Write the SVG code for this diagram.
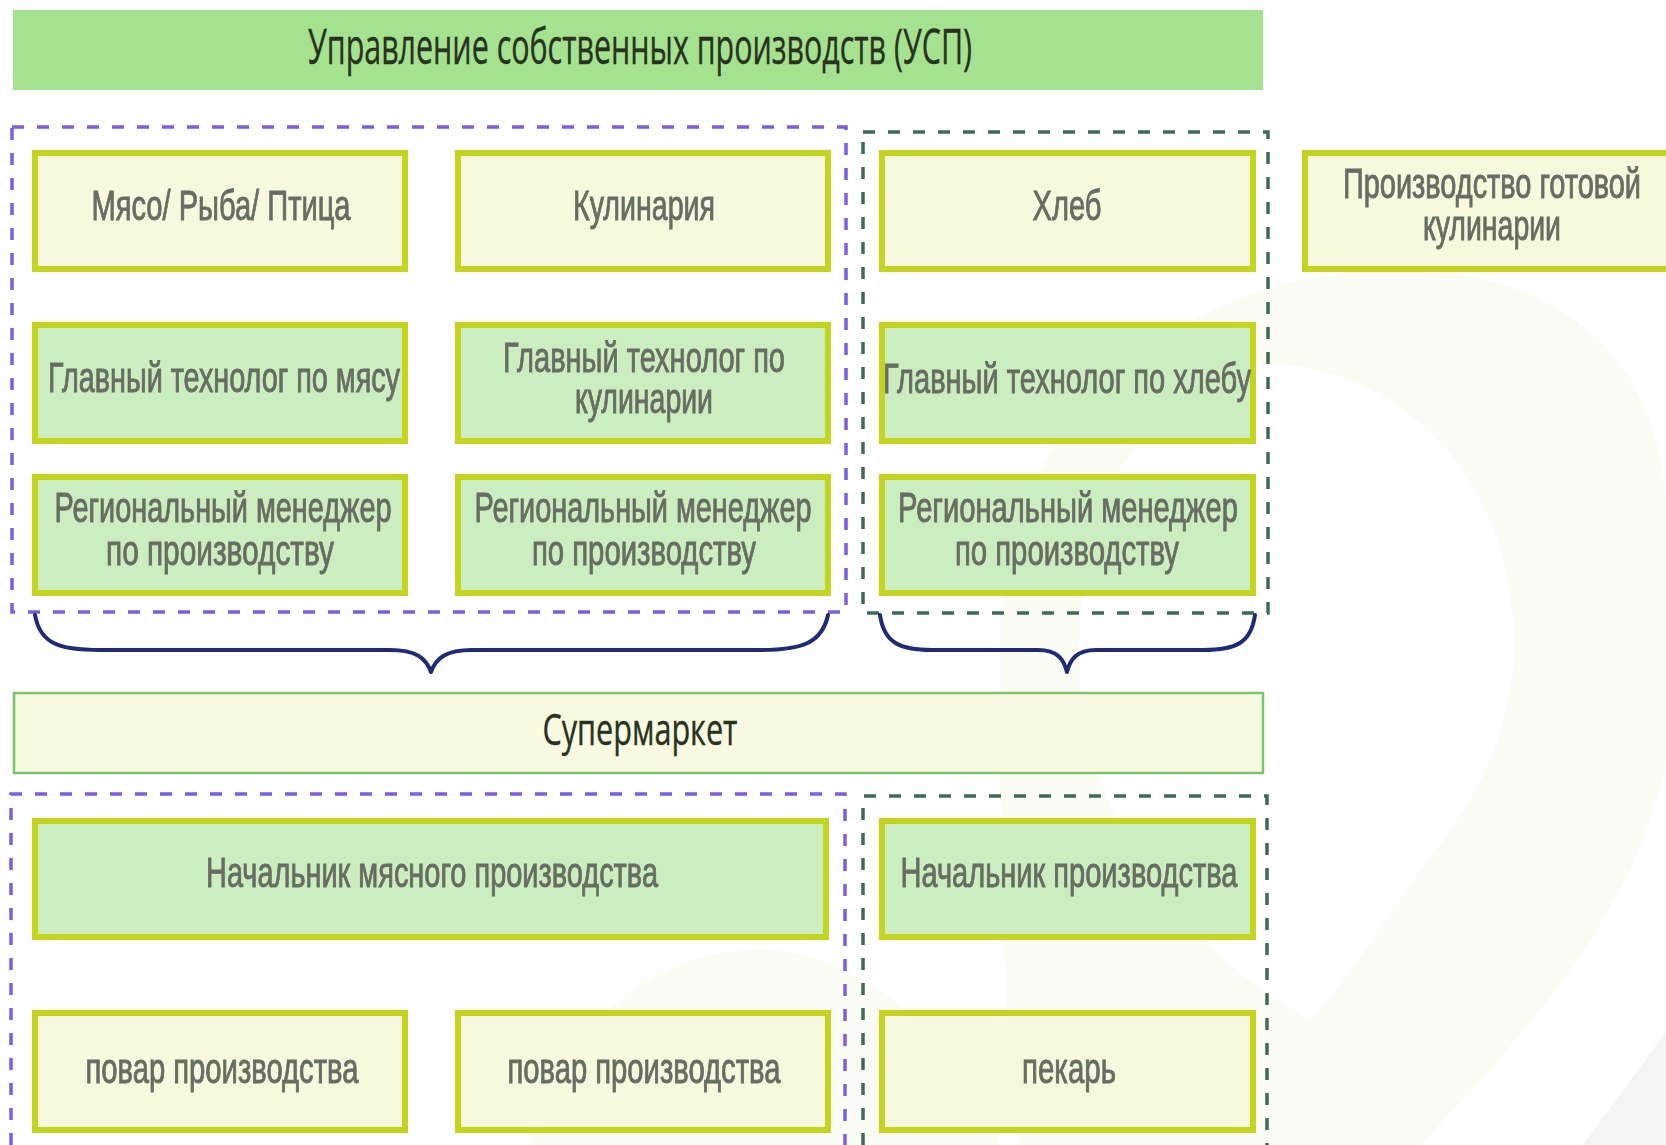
<svg xmlns="http://www.w3.org/2000/svg" width="1666" height="1145" viewBox="0 0 1666 1145">
<defs>
<style>
.bg{fill:#ffffff}
.wm{fill:#fbfcf3}
.wm2{fill:#f4f5f4}
.head{fill:#a5e28f}
.sup{fill:#f8fae1;stroke:#7cc56c;stroke-width:2.5}
.b1{fill:#f6f9de;stroke:#c3d51e;stroke-width:6}
.b2{fill:#ccedbf;stroke:#c3d51e;stroke-width:6}
.grpP{fill:none;stroke:#7d5ce6;stroke-width:3.5;stroke-dasharray:12 13}
.grpG{fill:none;stroke:#3e6b56;stroke-width:3.5;stroke-dasharray:12 13}
.brace{fill:none;stroke:#1f2a78;stroke-width:4;stroke-linecap:round;stroke-linejoin:round}
.tt{font-family:"Open Sans","DejaVu Sans",sans-serif;fill:#28321f;stroke:#28321f;stroke-width:0.4;text-anchor:middle}
.nt{font-family:"Liberation Sans",Arial,sans-serif;font-size:42px;fill:#666d62;stroke:#666d62;stroke-width:0.9;text-anchor:middle;filter:url(#soft)}
</style>
<filter id="soft" x="-5%" y="-20%" width="110%" height="140%">
<feGaussianBlur stdDeviation="0.6"/>
</filter>
</defs>
<rect class="bg" x="0" y="0" width="1666" height="1145"/>
<g id="watermark">
<path class="wm" fill-rule="evenodd" d="M1000,640 C1000,420 1180,270 1400,270 C1560,270 1666,360 1666,520 L1666,760 C1640,900 1540,1020 1420,1145 L1020,1145 C1000,1000 1000,800 1000,640 Z M1277,364 C1380,370 1500,450 1513,621 C1520,720 1480,800 1420,870 C1380,930 1340,990 1310,1020 C1200,960 1090,840 1080,680 C1070,500 1160,360 1277,364 Z"/>
<path class="wm" d="M530,1145 C560,1030 650,950 760,950 C860,950 960,1040 1000,1145 Z"/>
<path class="wm2" d="M1666,1032 L1666,1145 L1583,1145 Z"/>
</g>
<g id="groups">
<rect class="grpP" x="12" y="127" width="834" height="485"/>
<rect class="grpG" x="863" y="132" width="405" height="481"/>
<path class="grpP" d="M11,1145 V794 H845 V1145"/>
<path class="grpG" d="M863,1145 V796 H1267 V1145"/>
</g>
<g id="connectors">
<path class="brace" d="M35,615 C40,643 58,650 100,650 L390,650 C416,650 426,658 431,672 C436,658 446,650 472,650 L760,650 C802,650 822,643 828,615"/>
<path class="brace" d="M880,615 C884,643 900,650 932,650 L1038,650 C1058,650 1064,660 1067,672 C1070,660 1076,650 1096,650 L1203,650 C1236,650 1251,643 1255,615"/>
</g>
<g id="n-usp">
<rect class="head" x="13" y="10" width="1250" height="80"/>
<text class="tt" x="640" y="64" font-size="50" textLength="664" lengthAdjust="spacingAndGlyphs">Управление собственных производств (УСП)</text>
</g>
<g id="n-meat">
<rect class="b1" x="35" y="153" width="370" height="116"/>
<text class="nt" x="221" y="220" textLength="259" lengthAdjust="spacingAndGlyphs">Мясо/ Рыба/ Птица</text>
</g>
<g id="n-kulinaria">
<rect class="b1" x="458" y="153" width="370" height="116"/>
<text class="nt" x="644" y="220" textLength="142" lengthAdjust="spacingAndGlyphs">Кулинария</text>
</g>
<g id="n-hleb">
<rect class="b1" x="882" y="153" width="371" height="116"/>
<text class="nt" x="1067" y="220" textLength="69" lengthAdjust="spacingAndGlyphs">Хлеб</text>
</g>
<g id="n-gotovaya">
<rect class="b1" x="1305" y="153" width="370" height="116"/>
<text class="nt" x="1492" y="198" textLength="298" lengthAdjust="spacingAndGlyphs">Производство готовой</text>
<text class="nt" x="1492" y="240" textLength="138" lengthAdjust="spacingAndGlyphs">кулинарии</text>
</g>
<g id="n-tech-meat">
<rect class="b2" x="35" y="325" width="370" height="116"/>
<text class="nt" x="224" y="392" textLength="352" lengthAdjust="spacingAndGlyphs">Главный технолог по мясу</text>
</g>
<g id="n-tech-kul">
<rect class="b2" x="458" y="325" width="370" height="116"/>
<text class="nt" x="644" y="372" textLength="282" lengthAdjust="spacingAndGlyphs">Главный технолог по</text>
<text class="nt" x="644" y="413" textLength="138" lengthAdjust="spacingAndGlyphs">кулинарии</text>
</g>
<g id="n-tech-hleb">
<rect class="b2" x="882" y="325" width="371" height="116"/>
<text class="nt" x="1067" y="393" textLength="368" lengthAdjust="spacingAndGlyphs">Главный технолог по хлебу</text>
</g>
<g id="n-reg-1">
<rect class="b2" x="35" y="477" width="370" height="116"/>
<text class="nt" x="223" y="522" textLength="337" lengthAdjust="spacingAndGlyphs">Региональный менеджер</text>
<text class="nt" x="220" y="565" textLength="228" lengthAdjust="spacingAndGlyphs">по производству</text>
</g>
<g id="n-reg-2">
<rect class="b2" x="458" y="477" width="370" height="116"/>
<text class="nt" x="643" y="522" textLength="337" lengthAdjust="spacingAndGlyphs">Региональный менеджер</text>
<text class="nt" x="644" y="565" textLength="224" lengthAdjust="spacingAndGlyphs">по производству</text>
</g>
<g id="n-reg-3">
<rect class="b2" x="882" y="477" width="371" height="116"/>
<text class="nt" x="1068" y="522" textLength="340" lengthAdjust="spacingAndGlyphs">Региональный менеджер</text>
<text class="nt" x="1067" y="565" textLength="224" lengthAdjust="spacingAndGlyphs">по производству</text>
</g>
<g id="n-supermarket">
<rect class="sup" x="14" y="693" width="1249" height="80"/>
<text class="tt" x="640" y="745" font-size="44" textLength="195" lengthAdjust="spacingAndGlyphs">Супермаркет</text>
</g>
<g id="n-nach-meat">
<rect class="b2" x="35" y="821" width="791" height="116"/>
<text class="nt" x="432" y="887" textLength="452" lengthAdjust="spacingAndGlyphs">Начальник мясного производства</text>
</g>
<g id="n-nach-hleb">
<rect class="b2" x="882" y="821" width="371" height="116"/>
<text class="nt" x="1069" y="887" textLength="337" lengthAdjust="spacingAndGlyphs">Начальник производства</text>
</g>
<g id="n-povar-1">
<rect class="b1" x="35" y="1013" width="370" height="117"/>
<text class="nt" x="222" y="1083" textLength="273" lengthAdjust="spacingAndGlyphs">повар производства</text>
</g>
<g id="n-povar-2">
<rect class="b1" x="458" y="1013" width="370" height="117"/>
<text class="nt" x="644" y="1083" textLength="273" lengthAdjust="spacingAndGlyphs">повар производства</text>
</g>
<g id="n-pekar">
<rect class="b1" x="882" y="1013" width="371" height="117"/>
<text class="nt" x="1069" y="1083" textLength="94" lengthAdjust="spacingAndGlyphs">пекарь</text>
</g>
</svg>
